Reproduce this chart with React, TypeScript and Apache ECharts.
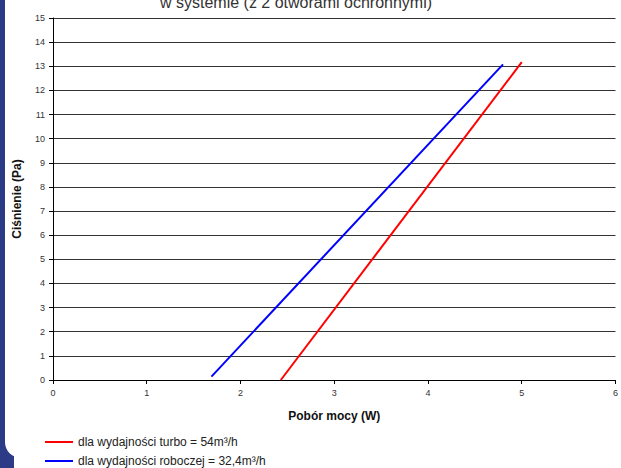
import React, { useEffect, useRef } from "react";
import * as echarts from "echarts";

const titleText = "w systemie (z 2 otworami ochronnymi)";
const xName = "Pobór mocy (W)";
const yName = "Ciśnienie (Pa)";
const seriesNames = [
  "dla wydajności turbo = 54m³/h",
  "dla wydajności roboczej = 32,4m³/h",
];
const turbo: [number, number][] = [
  [2.43, 0],
  [5.0, 13.17],
];
const robocza: [number, number][] = [
  [1.69, 0.14],
  [4.8, 13.08],
];
const colors = ["#ff0000", "#0000ff"];

export default function App() {
  const ref = useRef<HTMLDivElement>(null);
  useEffect(() => {
    if (!ref.current) return;
    const chart = echarts.init(ref.current, undefined, { renderer: "svg" });
    const font = "Arial, 'Liberation Sans', sans-serif";
    const legendBase = {
      orient: "vertical",
      left: 40,
      itemWidth: 28,
      itemHeight: 2,
      icon: "rect",
      textStyle: { fontFamily: font, fontSize: 12, color: "#222" },
    };
    chart.setOption({
      animation: false,
      backgroundColor: "#ffffff",
      graphic: [
        {
          type: "rect",
          z: -10,
          shape: { x: 0, y: 0, width: 621, height: 468 },
          style: { fill: "#2c3b86" },
        },
        {
          type: "rect",
          z: -9,
          shape: { x: 5, y: -20, width: 640, height: 478, r: [0, 0, 0, 16] },
          style: { fill: "#ffffff" },
        },
        {
          type: "rect",
          z: -9,
          shape: { x: 14, y: 448, width: 640, height: 30 },
          style: { fill: "#ffffff" },
        },
        {
          type: "text",
          left: 160,
          top: -6,
          style: {
            text: titleText,
            font: `16px ${font}`,
            fill: "#333",
          },
        },
      ],
      grid: { left: 53, right: 0, top: 18, bottom: 88, containLabel: false },
      legend: [
        { ...legendBase, top: 431, data: [seriesNames[0]] },
        { ...legendBase, top: 450, data: [seriesNames[1]] },
      ],
      xAxis: {
        type: "value",
        min: 0,
        max: 6,
        interval: 1,
        name: xName,
        nameLocation: "middle",
        nameGap: 30,
        nameTextStyle: { fontFamily: font, fontSize: 12, fontWeight: "bold", color: "#111" },
        axisLine: { lineStyle: { color: "#000", width: 1 } },
        axisTick: { show: true, length: 4, lineStyle: { color: "#000" } },
        axisLabel: { fontFamily: font, fontSize: 9, color: "#333", margin: 8 },
        splitLine: { show: false },
      },
      yAxis: {
        type: "value",
        min: 0,
        max: 15,
        interval: 1,
        name: yName,
        nameLocation: "middle",
        nameGap: 30,
        nameRotate: 90,
        nameTextStyle: { fontFamily: font, fontSize: 12, fontWeight: "bold", color: "#111" },
        axisLine: { show: true, lineStyle: { color: "#000", width: 1 } },
        axisTick: { show: true, length: 4, lineStyle: { color: "#000" } },
        axisLabel: { fontFamily: font, fontSize: 9, color: "#333", margin: 8 },
        splitLine: { show: true, lineStyle: { color: "#333", width: 1 } },
      },
      series: [
        {
          name: seriesNames[0],
          type: "line",
          data: turbo,
          showSymbol: false,
          symbol: "none",
          lineStyle: { color: colors[0], width: 2 },
          itemStyle: { color: colors[0] },
        },
        {
          name: seriesNames[1],
          type: "line",
          data: robocza,
          showSymbol: false,
          symbol: "none",
          lineStyle: { color: colors[1], width: 2 },
          itemStyle: { color: colors[1] },
        },
      ],
    });
    return () => chart.dispose();
  }, []);
  return <div ref={ref} style={{ width: 621, height: 468, position: "absolute", left: 0, top: 0 }} />;
}
